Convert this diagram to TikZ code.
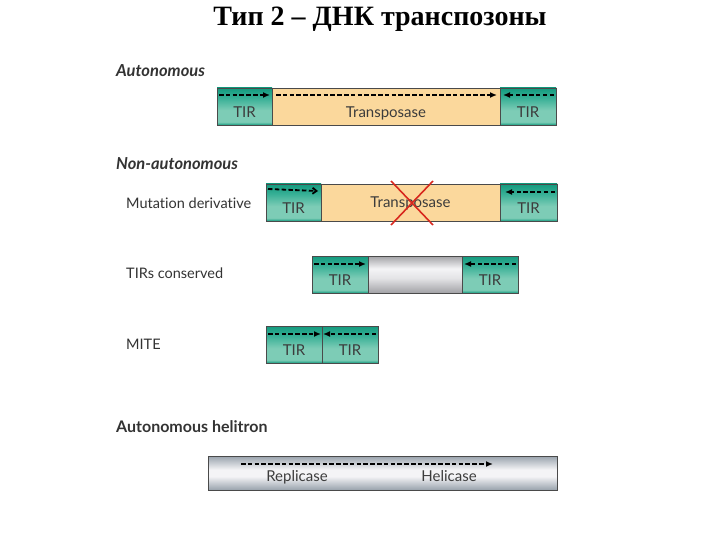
\documentclass[tikz,border=0pt]{standalone}
\usepackage{fontspec}
\setmainfont{Lato}[Ligatures=NoCommon]
\newfontfamily\titlefont{Liberation Serif}
\usetikzlibrary{arrows.meta}
\definecolor{tdark}{HTML}{139A7E}
\definecolor{tmid}{HTML}{36AF95}
\definecolor{tlight}{HTML}{7DCCB6}
\definecolor{peach}{HTML}{FBD89C}
\definecolor{bordc}{HTML}{4A4A4A}
\definecolor{txt}{HTML}{3C3C3C}
\definecolor{labc}{HTML}{333333}
\definecolor{gdark}{HTML}{A2A2A6}
\definecolor{glight}{HTML}{F4F4F6}
\definecolor{hdark}{HTML}{98A2AC}
\definecolor{crossred}{HTML}{D8281E}
\pgfdeclareverticalshading{tirsh}{100bp}{color(0bp)=(tdark); color(25bp)=(tdark); color(29bp)=(tlight); color(45bp)=(tlight); color(62bp)=(tmid); color(75bp)=(tdark); color(100bp)=(tdark)}
\pgfdeclareverticalshading{greysh}{100bp}{color(0bp)=(gdark); color(25bp)=(gdark); color(45bp)=(glight!80!gdark); color(58bp)=(glight); color(75bp)=(gdark); color(100bp)=(gdark)}
\pgfdeclareverticalshading{helish}{100bp}{color(0bp)=(hdark); color(25bp)=(hdark); color(45bp)=(glight); color(55bp)=(glight); color(75bp)=(hdark); color(100bp)=(hdark)}
\begin{document}
\begin{tikzpicture}[x=1pt,y=-1pt,
  seg/.style={draw=bordc, line width=0.9pt, inner sep=0pt, outer sep=0pt, anchor=north west},
  tir/.style={seg, shading=tirsh},
  tpase/.style={seg, fill=peach},
  greyseg/.style={seg, shading=greysh},
  helit/.style={seg, shading=helish},
  intext/.style={text=txt, inner sep=0pt, text height=10.5pt, text depth=3pt, font=\fontsize{15}{17}\selectfont},
  lab/.style={anchor=west, text=labc, inner sep=0pt, font=\fontsize{14.5}{16}\selectfont},
  head/.style={lab, font=\bfseries\itshape\fontsize{16.5}{18}\selectfont},
  dsh/.style={line width=1.8pt, dash pattern=on 4.5pt off 2.3pt, -{Latex[length=7pt,width=6pt]}},
  cross/.style={crossred, line width=1.6pt}
]
\useasboundingbox[fill=white] (0,0) rectangle (720,540);

% title
\node[font=\titlefont\bfseries\fontsize{28}{32}\selectfont] (title) at (380,19) {Тип 2 – ДНК транспозоны};

% ---------- Autonomous ----------
\node[head] (hAut) at (116,71) {Autonomous};
\node[tir, minimum width=55pt, minimum height=37pt] (a1) at (217,88) {};
\node[tpase, minimum width=228pt, minimum height=37pt] (a2) at (272,88) {};
\node[tir, minimum width=56pt, minimum height=37pt] (a3) at (500,88) {};
\node[intext] (a1t) at ([yshift=-7pt]a1.center) {TIR};
\node[intext] (a2t) at ([yshift=-7pt]a2.center) {Transposase};
\node[intext] (a3t) at ([yshift=-7pt]a3.center) {TIR};
\draw[dsh] ([xshift=2pt,yshift=-7pt]a1.north west) -- ([xshift=-2pt,yshift=-7pt]a1.north east);
\draw[dsh] ([xshift=4pt,yshift=-7pt]a2.north west) -- ([xshift=-3pt,yshift=-7pt]a2.north east);
\draw[dsh] ([xshift=-2pt,yshift=-7pt]a3.north east) -- ([xshift=3pt,yshift=-7pt]a3.north west);

% ---------- Non-autonomous ----------
\node[head] (hNon) at (116,164) {Non-autonomous};
\node[lab] (lMut) at (126,203) {Mutation derivative};
\node[tir, minimum width=55pt, minimum height=37pt] (m1) at (266,184) {};
\node[tpase, minimum width=179pt, minimum height=37pt] (m2) at (321,184) {};
\node[tir, minimum width=57pt, minimum height=37pt] (m3) at (500,184) {};
\node[intext] (m1t) at ([yshift=-7pt]m1.center) {TIR};
\node[intext] (m2t) at ([yshift=-1pt]m2.center) {Transposase};
\node[intext] (m3t) at ([yshift=-7pt]m3.center) {TIR};
\draw[line width=1.8pt, dash pattern=on 4.5pt off 2.3pt, -{Straight Barb[length=4pt,width=6pt]}] ([xshift=2pt,yshift=-5pt]m1.north west) -- ([xshift=-3pt,yshift=-7pt]m1.north east);
\draw[dsh] ([xshift=-2pt,yshift=-8pt]m3.north east) -- ([xshift=5pt,yshift=-8pt]m3.north west);
\coordinate (x1) at (391,181);
\coordinate (x2) at (433,225);
\coordinate (x3) at (433,181);
\coordinate (x4) at (391,225);
\draw[cross] (x1) -- (x2);
\draw[cross] (x3) -- (x4);

% TIRs conserved
\node[lab] (lTc) at (126,273) {TIRs conserved};
\node[tir, minimum width=56pt, minimum height=37pt] (c1) at (312,256) {};
\node[greyseg, minimum width=94pt, minimum height=37pt] (c2) at (368,256) {};
\node[tir, minimum width=56pt, minimum height=37pt] (c3) at (462,256) {};
\node[intext] (c1t) at ([yshift=-7pt]c1.center) {TIR};
\node[intext] (c3t) at ([yshift=-7pt]c3.center) {TIR};
\draw[dsh] ([xshift=2pt,yshift=-8pt]c1.north west) -- ([xshift=-2pt,yshift=-8pt]c1.north east);
\draw[dsh] ([xshift=-2pt,yshift=-8pt]c3.north east) -- ([xshift=2pt,yshift=-8pt]c3.north west);

% MITE
\node[lab] (lMite) at (126,344) {MITE};
\node[tir, minimum width=56pt, minimum height=37pt] (e1) at (266,326) {};
\node[tir, minimum width=56pt, minimum height=37pt] (e2) at (322,326) {};
\node[intext] (e1t) at ([yshift=-7pt]e1.center) {TIR};
\node[intext] (e2t) at ([yshift=-7pt]e2.center) {TIR};
\draw[dsh] ([xshift=2pt,yshift=-8pt]e1.north west) -- ([xshift=-1pt,yshift=-8pt]e1.north east);
\draw[dsh] ([xshift=-2pt,yshift=-8pt]e2.north east) -- ([xshift=1pt,yshift=-8pt]e2.north west);

% ---------- Helitron ----------
\node[lab, font=\bfseries\fontsize{16}{18}\selectfont] (hHel) at (116,427) {Autonomous helitron};
\node[helit, minimum width=349pt, minimum height=34pt] (h1) at (208,456) {};
\coordinate (hs) at (241,464);
\coordinate (he) at (493,464);
\draw[dsh] (hs) -- (he);
\node[intext] (h1t) at (297,478) {Replicase};
\node[intext] (h2t) at (449,478) {Helicase};
\end{tikzpicture}
\end{document}
